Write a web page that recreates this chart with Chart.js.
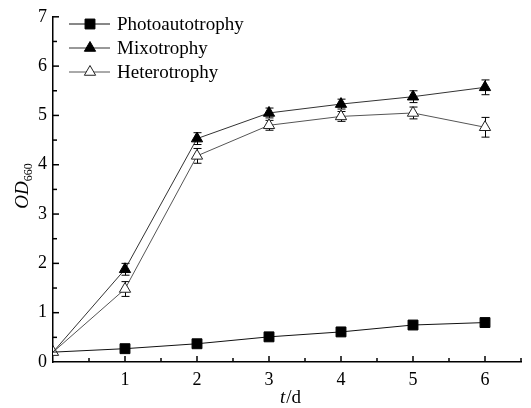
<!DOCTYPE html>
<html><head><meta charset="utf-8">
<script src="https://cdn.jsdelivr.net/npm/chart.js@4/dist/chart.umd.min.js"></script>
<style>html,body{margin:0;padding:0;background:#fff}#wrap{width:531px;height:408px}</style>
</head><body><div id="wrap"><canvas id="c" width="531" height="408"></canvas></div>
<script>
const days = [0, 1, 2, 3, 4, 5, 6];
const photo = [0.20, 0.27, 0.37, 0.51, 0.61, 0.75, 0.80];
const photoErr = [0, 0.02, 0.02, 0.03, 0.03, 0.04, 0.04];
const mixo = [0.20, 1.88, 4.53, 5.05, 5.23, 5.38, 5.57];
const mixoErr = [0, 0.12, 0.12, 0.10, 0.10, 0.12, 0.15];
const hetero = [0.20, 1.48, 4.18, 4.80, 4.98, 5.05, 4.76];
const heteroErr = [0, 0.15, 0.15, 0.10, 0.10, 0.12, 0.20];
const seriesNames = ['Photoautotrophy', 'Mixotrophy', 'Heterotrophy'];
const xTickValues = [1, 2, 3, 4, 5, 6];
const yTickValues = [0, 1, 2, 3, 4, 5, 6, 7];

const FONT = '"Liberation Serif", "Times New Roman", serif';
const errs = [photoErr, mixoErr, heteroErr];

const pts = arr => days.map((d, i) => ({x: d, y: arr[i]}));

const decor = {
  id: 'decor',
  beforeDatasetsDraw(chart) {
    const ctx = chart.ctx, xs = chart.scales.x, ys = chart.scales.y;
    ctx.save();
    chart.data.datasets.forEach((ds, di) => {
      const e = errs[di];
      ctx.strokeStyle = '#000';
      ctx.lineWidth = 1;
      ds.data.forEach((p, i) => {
        if (!e[i]) return;
        const px = Math.round(xs.getPixelForValue(p.x)) + 0.5;
        const top = ys.getPixelForValue(p.y + e[i]);
        const bot = ys.getPixelForValue(p.y - e[i]);
        ctx.beginPath();
        ctx.moveTo(px, top); ctx.lineTo(px, bot);
        ctx.moveTo(px - 4, top); ctx.lineTo(px + 4, top);
        ctx.moveTo(px - 4, bot); ctx.lineTo(px + 4, bot);
        ctx.stroke();
      });
    });
    ctx.restore();
  },
  afterDraw(chart) {
    const ctx = chart.ctx, xs = chart.scales.x, ys = chart.scales.y;
    const a = chart.chartArea;
    ctx.save();
    ctx.strokeStyle = '#000';
    ctx.lineWidth = 1.5;
    for (let v = 0.5; v <= 6.5; v += 0.5) {
      const px = xs.getPixelForValue(v);
      const len = Number.isInteger(v) ? 6 : 4;
      ctx.beginPath(); ctx.moveTo(px, a.bottom); ctx.lineTo(px, a.bottom - len); ctx.stroke();
    }
    for (let v = 0.5; v <= 7; v += 0.5) {
      const py = ys.getPixelForValue(v);
      const len = Number.isInteger(v) ? 6 : 4;
      ctx.beginPath(); ctx.moveTo(a.left, py); ctx.lineTo(a.left + len, py); ctx.stroke();
    }
    // legend
    const rows = [24, 48, 72];
    chart.data.datasets.forEach((ds, di) => {
      const y = rows[di];
      ctx.strokeStyle = ds.borderColor;
      ctx.lineWidth = 1;
      ctx.beginPath(); ctx.moveTo(69, y); ctx.lineTo(110, y); ctx.stroke();
      ctx.save();
      ctx.fillStyle = ds.pointBackgroundColor;
      ctx.strokeStyle = ds.pointBorderColor;
      ctx.lineWidth = 1;
      Chart.helpers.drawPoint(ctx, {pointStyle: ds.pointStyle, radius: ds.legendRadius, borderWidth: 1, rotation: 0}, 90, y);
      ctx.restore();
      ctx.fillStyle = '#000';
      ctx.font = '19px ' + FONT;
      ctx.textBaseline = 'middle';
      ctx.textAlign = 'left';
      ctx.fillText(seriesNames[di], 117, y + 1);
    });
    // x title: t/d
    ctx.fillStyle = '#000';
    ctx.textBaseline = 'alphabetic';
    ctx.textAlign = 'left';
    ctx.font = 'italic 19px ' + FONT;
    const tW = ctx.measureText('t').width;
    ctx.font = '19px ' + FONT;
    const rW = ctx.measureText('/d').width;
    const sx = 290 - (tW + rW) / 2;
    ctx.font = 'italic 19px ' + FONT;
    ctx.fillText('t', sx, 403);
    ctx.font = '19px ' + FONT;
    ctx.fillText('/d', sx + tW + 1, 403);
    // y title OD660
    ctx.translate(28, 186);
    ctx.rotate(-Math.PI / 2);
    ctx.font = 'italic 19px ' + FONT;
    const oW = ctx.measureText('OD').width;
    ctx.font = '12px ' + FONT;
    const sW = ctx.measureText('660').width;
    const start = -(oW + sW) / 2;
    ctx.font = 'italic 19px ' + FONT;
    ctx.fillText('OD', start, 0);
    ctx.font = '12px ' + FONT;
    ctx.fillText('660', start + oW, 4);
    ctx.restore();
  }
};

const clipLeft = {left: 0, top: false, right: false, bottom: false};

new Chart(document.getElementById('c'), {
  type: 'line',
  data: {
    datasets: [
      {
        label: seriesNames[0], data: pts(photo), clip: clipLeft,
        borderColor: '#111', borderWidth: 1,
        pointStyle: 'rect', pointRadius: [0, 7, 7, 7, 7, 7, 7], legendRadius: 7,
        pointBackgroundColor: '#000', pointBorderColor: '#000', pointBorderWidth: 1,
        tension: 0
      },
      {
        label: seriesNames[1], data: pts(mixo), clip: clipLeft,
        borderColor: '#333', borderWidth: 1,
        pointStyle: 'triangle', pointRadius: [0, 6.5, 6.5, 6.5, 6.5, 6.5, 6.5], legendRadius: 6.5,
        pointBackgroundColor: '#000', pointBorderColor: '#000', pointBorderWidth: 1,
        tension: 0
      },
      {
        label: seriesNames[2], data: pts(hetero), clip: clipLeft,
        borderColor: '#555', borderWidth: 1,
        pointStyle: 'triangle', pointRadius: 6.5, legendRadius: 6.5,
        pointBackgroundColor: '#fff', pointBorderColor: '#222', pointBorderWidth: 1,
        tension: 0
      }
    ]
  },
  options: {
    responsive: false,
    animation: false,
    events: [],
    layout: {padding: {top: 12, right: 10, left: 0, bottom: 0}},
    plugins: {legend: {display: false}, tooltip: {enabled: false}},
    scales: {
      x: {
        type: 'linear', min: 0, max: 6.5,
        afterFit(s) { s.height = 46; },
        grid: {display: false, drawTicks: false},
        border: {display: true, color: '#000', width: 1.5},
        afterBuildTicks(s) { s.ticks = xTickValues.map(v => ({value: v})); },
        ticks: {color: '#000', font: {family: FONT, size: 18}, padding: 7, maxRotation: 0}
      },
      y: {
        type: 'linear', min: 0, max: 7,
        afterFit(s) { s.width = 53; },
        grid: {display: false, drawTicks: false},
        border: {display: true, color: '#000', width: 1.5},
        afterBuildTicks(s) { s.ticks = yTickValues.map(v => ({value: v})); },
        ticks: {color: '#000', font: {family: FONT, size: 18}, padding: 6}
      }
    }
  },
  plugins: [decor]
});
</script>
</body></html>
